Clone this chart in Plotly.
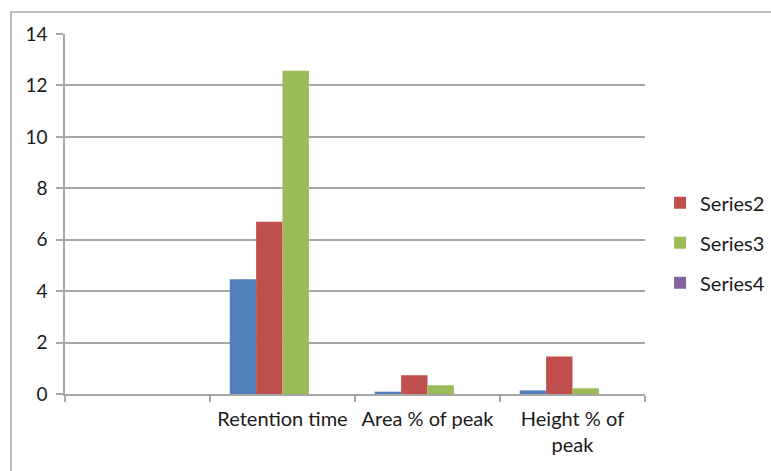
import plotly.graph_objects as go

# Categories along the x axis (the first slot is left blank)
categories = [" ", "Retention time", "Area % of peak", "Height % of<br>peak"]

# Series values per category
series1 = [0, 4.46, 0.09, 0.14]
series2 = [0, 6.70, 0.73, 1.46]
series3 = [0, 12.57, 0.34, 0.22]
series4 = [0, 0, 0, 0]

series_names = ["Series1", "Series2", "Series3", "Series4"]
series_values = [series1, series2, series3, series4]
series_colors = ["#4F81BD", "#C0504D", "#9BBB59", "#8064A2"]
show_in_legend = [False, True, True, True]

y_ticks = [0, 2, 4, 6, 8, 10, 12, 14]

FONT = "Lato, Carlito, 'Liberation Sans', sans-serif"
GRID = "#A6A6A6"
TEXT = "#1a1a1a"

fig = go.Figure()
for name, vals, col, leg in zip(series_names, series_values, series_colors, show_in_legend):
    fig.add_trace(go.Bar(
        x=categories, y=vals, name=name,
        marker=dict(color=col, line=dict(width=0)),
        showlegend=leg, legendgroup=name,
    ))

fig.update_layout(
    width=771, height=471,
    margin=dict(l=65, r=126, t=34, b=77, autoexpand=False),
    paper_bgcolor="white", plot_bgcolor="white",
    barmode="group", bargap=0.272, bargroupgap=0,
    font=dict(family=FONT, size=20, color=TEXT),
    legend=dict(
        x=1.026, y=0.42, xanchor="left", yanchor="middle",
        font=dict(family=FONT, size=20, color=TEXT),
        traceorder="grouped", tracegroupgap=11,
        bgcolor="rgba(0,0,0,0)",
    ),
    xaxis=dict(
        type="category", categoryorder="array", categoryarray=categories,
        tickson="boundaries", ticks="outside", ticklen=6, tickwidth=1.5,
        tickcolor=GRID, showgrid=False, showline=True, linecolor=GRID,
        linewidth=1.5, zeroline=False, tickfont=dict(size=20),
        ticklabelstandoff=6,
    ),
    yaxis=dict(
        range=[0, 14], tickvals=y_ticks, ticks="outside", ticklen=7,
        tickwidth=1.5, tickcolor=GRID, showgrid=True, gridcolor=GRID,
        gridwidth=1.5, showline=True, linecolor=GRID, linewidth=1.5,
        zeroline=False, tickfont=dict(size=19), ticklabelstandoff=5,
    ),
    shapes=[dict(
        type="rect", xref="paper", yref="paper",
        x0=-54 / 580, x1=720 / 580, y0=-100 / 360, y1=1 + 22 / 360,
        line=dict(color="#A6A6A6", width=1.5), fillcolor="rgba(0,0,0,0)",
        layer="below",
    )],
)

fig.write_html("out.html")
